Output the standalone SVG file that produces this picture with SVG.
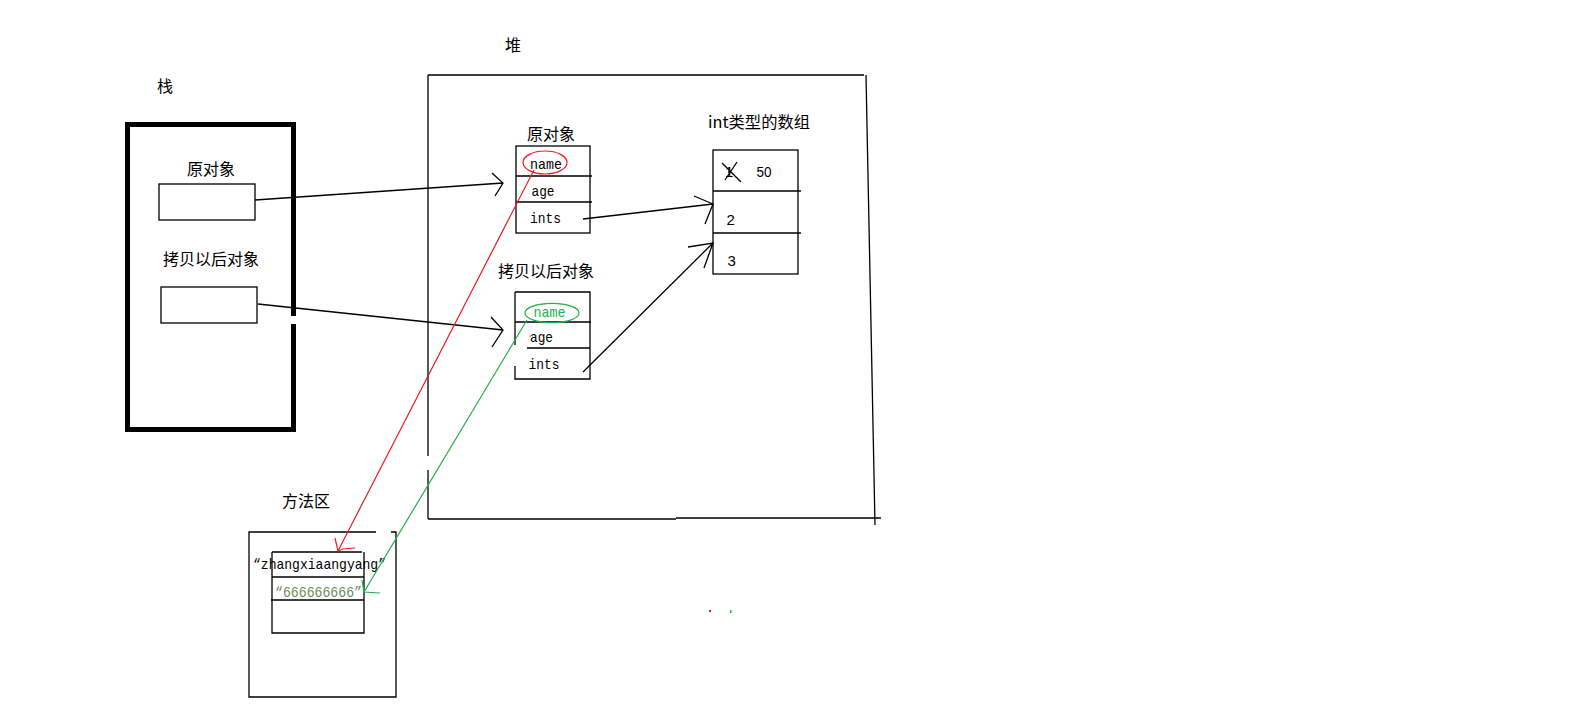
<svg xmlns="http://www.w3.org/2000/svg" width="1579" height="717" viewBox="0 0 1579 717">
<style>
.cjk{font-family:"Noto Sans CJK SC","Noto Sans CJK JP",sans-serif;font-size:16px;fill:#000}
.mono{font-family:"Liberation Mono",monospace;font-size:15px;fill:#000}
.num{font-family:"Liberation Sans",sans-serif;font-size:15px;fill:#000}
.ln{stroke:#000;stroke-width:1.3;fill:none}
.box{fill:none;stroke:#000;stroke-width:1.3}
.red{stroke:#ED1C24;fill:none;stroke-width:1.2}
.green{stroke:#22B14C;fill:none;stroke-width:1.2}
</style>
<rect width="1579" height="717" fill="#fff"/>

<g id="stack">
  <text class="cjk" x="157" y="92" font-size="15">栈</text>
  <path d="M293.5,316 L293.5,124.5 L127.5,124.5 L127.5,429.5 L293.5,429.5 L293.5,324" stroke="#000" stroke-width="5" fill="none"/>
  <g id="stack-orig">
    <text class="cjk" x="187" y="175">原对象</text>
    <rect class="box" x="159" y="184" width="96" height="36"/>
  </g>
  <g id="stack-copy">
    <text class="cjk" x="163" y="265">拷贝以后对象</text>
    <rect class="box" x="161" y="287" width="96" height="36"/>
  </g>
</g>

<g id="heap">
  <text class="cjk" x="505" y="51" font-size="15">堆</text>
  <path class="ln" d="M428,75 L864,75 M866,75 L875,525 M428,75 L428,456 M428,470 L428,519 M428,519 L676,519 M676,518 L881,518"/>
</g>

<g id="heap-orig">
  <text class="cjk" x="527" y="140">原对象</text>
  <rect class="box" x="516" y="146" width="74" height="87"/>
  <path class="ln" d="M516,176 L592,176 M516,202 L592,202"/>
  <text class="mono" x="530" y="169" textLength="32" lengthAdjust="spacingAndGlyphs">name</text>
  <text class="mono" x="531.5" y="196" textLength="23" lengthAdjust="spacingAndGlyphs">age</text>
  <text class="mono" x="530" y="223" textLength="31" lengthAdjust="spacingAndGlyphs">ints</text>
  <ellipse class="red" cx="545" cy="162.5" rx="22" ry="11.5"/>
</g>

<g id="heap-copy">
  <text class="cjk" x="498" y="277">拷贝以后对象</text>
  <path class="ln" d="M515,292 L590,292 L590,379 L515,379 L515,366 M515,345 L515,292 M515,322 L591,322 M527,348 L590,348"/>
  <text class="mono" x="533.5" y="317" textLength="32" lengthAdjust="spacingAndGlyphs" style="fill:#22B14C">name</text>
  <text class="mono" x="530" y="342" textLength="23" lengthAdjust="spacingAndGlyphs">age</text>
  <text class="mono" x="528.5" y="369" textLength="31" lengthAdjust="spacingAndGlyphs">ints</text>
  <ellipse class="green" cx="552" cy="313" rx="27" ry="9.7"/>
  <rect x="529.5" y="335.5" width="1.2" height="1.2" fill="#ED1C24"/>
</g>

<g id="int-array">
  <text class="cjk" x="708" y="128" font-size="14" textLength="102" lengthAdjust="spacingAndGlyphs">int类型的数组</text>
  <rect class="box" x="713" y="150" width="85" height="124"/>
  <path class="ln" d="M713,191 L801,191 M713,233 L801,233"/>
  <text class="num" x="725" y="177">1</text>
  <path class="ln" d="M722,163 L741,182 M725,180 L737,162"/>
  <circle cx="729.5" cy="172" r="1.3" fill="#000"/>
  <text class="num" x="756.5" y="177" textLength="15" lengthAdjust="spacingAndGlyphs">50</text>
  <text class="num" x="726.5" y="225">2</text>
  <text class="num" x="727.5" y="266">3</text>
</g>

<g id="method-area">
  <text class="cjk" x="282" y="507">方法区</text>
  <path class="ln" d="M376,532 L249,532 L249,697 L396,697 L396,532 L391,532"/>
  <path class="ln" d="M272,552 L362,552 M272,552 L272,633 L364,633 L364,552 M272,577 L364,577 M271,600 L364,600"/>
  <text class="mono" x="253" y="569" textLength="133" lengthAdjust="spacingAndGlyphs">“zhangxiaangyang”</text>
  <text class="mono" x="275" y="597" textLength="87" lengthAdjust="spacingAndGlyphs" style="fill:#6A8B5B">“666666666”</text>
</g>

<g id="connectors">
  <path class="ln" d="M255,200 L503,183 M492,173 L503,183 L495,196"/>
  <path class="ln" d="M258,304 L503,330 M491,317 L503,330 L492,347"/>
  <path class="ln" d="M583,219 L713,204 M694,196 L713,204 L705,224"/>
  <path class="ln" d="M583,372 L713,243 M688,247 L713,243 L704,268"/>
  <path class="red" d="M534,170 L338,551 M335,538 L338,551 L343,549 L355,548"/>
  <path class="green" d="M527,320 L364,592 M362,580 L364,592 L380,593"/>
  <rect x="709" y="610" width="2" height="2" fill="#ED1C24"/>
  <rect x="730" y="610" width="1.5" height="3" fill="#22B14C"/>
</g>
</svg>
